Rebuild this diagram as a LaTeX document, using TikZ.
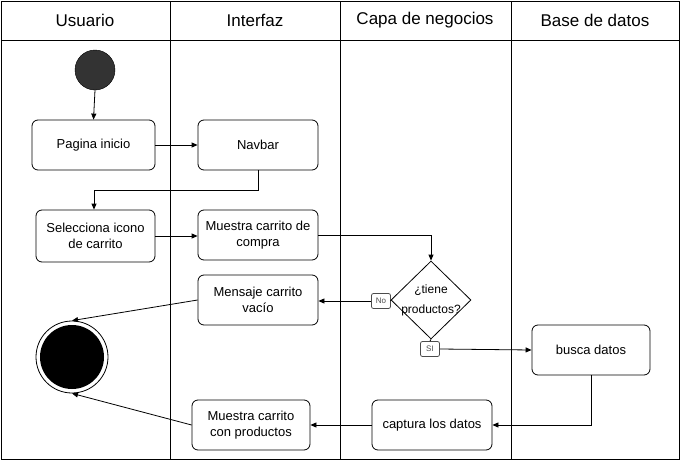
\documentclass[tikz,border=0pt]{standalone}
\usepackage{fontspec}
\setmainfont{Liberation Sans}
\usetikzlibrary{shapes.geometric,arrows.meta}
\begin{document}
\begin{tikzpicture}[x=1pt,y=-1pt,
  box/.style={draw,rounded corners=6pt,line width=0.8pt,align=center,font=\fontsize{13}{16}\selectfont,inner sep=0pt},
  lbl/.style={draw,rounded corners=2pt,fill=white,font=\fontsize{8}{9}\selectfont,inner sep=0pt,minimum width=19pt,minimum height=15pt,draw=black!70,line width=0.8pt,text=black!70},
  flow/.style={-{Triangle[length=6pt,width=5pt]},line width=0.8pt},
  plain/.style={line width=0.8pt},
  lane/.style={line width=0.8pt},
  head/.style={font=\fontsize{17}{20}\selectfont}]
\useasboundingbox (0,0) rectangle (681,461);
% lanes
\draw[lane] (1,1) rectangle (679,459);
\draw[lane] (1,40) -- (679,40);
\draw[lane] (170,1) -- (170,459);
\draw[lane] (340,1) -- (340,459);
\draw[lane] (511,1) -- (511,459);
\node[head] (h1) at (85,20) {Usuario};
\node[head] (h2) at (255,20) {Interfaz};
\node[head] (h3) at (425,20) {Capa de negocios};
\node[head] (h4) at (595,20) {Base de datos};
% nodes
\node[circle,draw,fill=black!80,minimum size=40pt,inner sep=0pt] (start) at (95,70) {};
\node[box,minimum width=123pt,minimum height=50pt] (pag) at (93.5,145) {Pagina inicio};
\node[box,minimum width=120pt,minimum height=50pt] (nav) at (258,145) {Navbar};
\node[box,minimum width=119pt,minimum height=52pt] (sel) at (95.5,236) {Selecciona icono\\de carrito};
\node[box,minimum width=120pt,minimum height=50pt] (mca) at (258,235) {Muestra carrito de\\compra};
\node[diamond,draw,line width=0.8pt,minimum width=80pt,minimum height=78pt,inner sep=0pt] (dia) at (431,300) {};
\node[align=center,font=\fontsize{12}{20}\selectfont,inner sep=0pt] (diat) at (dia.center) {¿tiene\\productos?};
\node[box,minimum width=120pt,minimum height=50pt] (msj) at (258,300) {Mensaje carrito\\vacío};
\node[box,minimum width=118pt,minimum height=50pt] (bus) at (591,350) {busca datos};
\node[box,minimum width=120pt,minimum height=50pt] (cap) at (432,425) {captura los datos};
\node[box,minimum width=118pt,minimum height=50pt] (mcp) at (251,425) {Muestra carrito\\con productos};
\node[circle,draw,line width=0.8pt,minimum size=72pt,inner sep=0pt] (fin) at (72,357) {};
\node[circle,fill=black,minimum size=64pt,inner sep=0pt] (finin) at (72,357) {};
% connectors
\draw[flow] (start.south) -- (pag.north);
\draw[flow] (pag.east) -- (nav.west);
\coordinate (n1) at (nav.south |- 0,190);
\coordinate (n2) at (94,190);
\draw[flow] (nav.south) -- (n1) -- (n2) -- (sel.north -| n2);
\draw[flow] (sel.east) -- (sel.east -| mca.west);
\coordinate (m1) at (dia.north |- mca.east);
\draw[flow] (mca.east) -- (m1) -- (dia.north);
\node[lbl] (no) at (381,301) {No};
\draw[plain] (dia.west) -- (no.east);
\draw[flow] (no.west) -- (msj.east |- no.west);
\node[lbl] (si) at (430,349) {SI};
\draw[plain] (dia.south) -- (si.north);
\draw[flow] (si.east) -- (bus.west);
\coordinate (b1) at (bus.south |- cap.east);
\draw[flow] (bus.south) -- (b1) -- (cap.east);
\draw[flow] (cap.west) -- (mcp.east);
\draw[flow] (msj.west) -- (fin.north);
\draw[flow] (mcp.west) -- (fin.south);
\end{tikzpicture}
\end{document}
